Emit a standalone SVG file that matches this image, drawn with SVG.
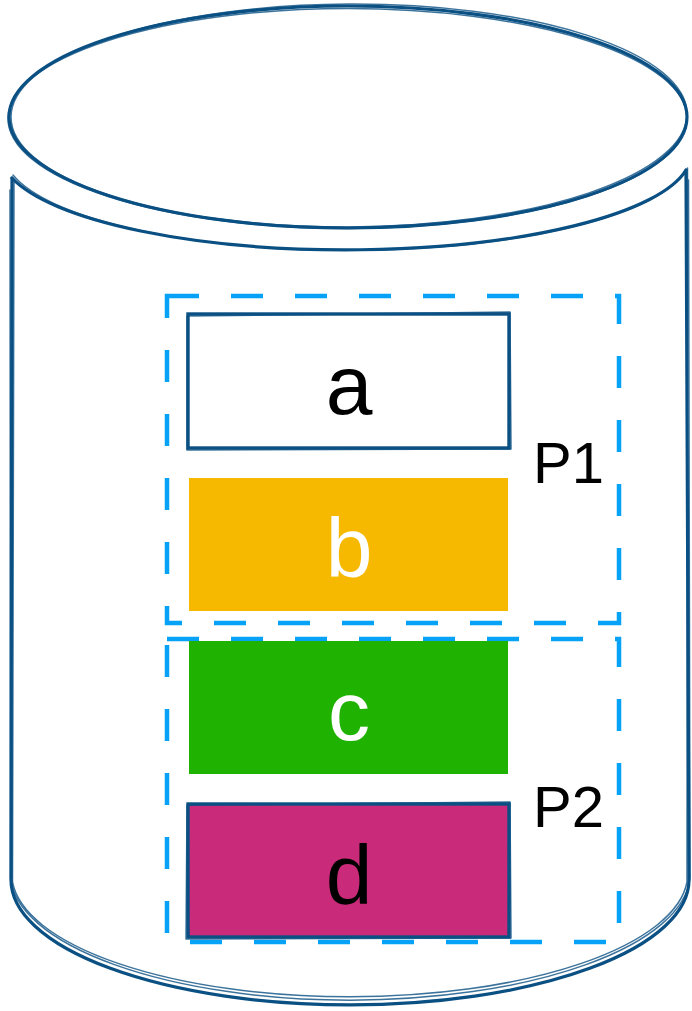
<svg xmlns="http://www.w3.org/2000/svg" width="692" height="1011" viewBox="0 0 692 1011">
<style>
.sk{fill:none;stroke:#0b5083;stroke-linecap:round;stroke-linejoin:round}
.s1{stroke-width:3.2}
.s2{stroke-width:1.5;opacity:.8}
.part{fill:none;stroke:#06a2f7;stroke-width:4.5;stroke-dasharray:32 32}
.lbl{font-family:"Liberation Sans","Helvetica Neue",Arial,sans-serif;font-size:84px;text-anchor:middle}
.pl{font-family:"Liberation Sans","Helvetica Neue",Arial,sans-serif;font-size:58px}
</style>
<rect width="692" height="1011" fill="#fff"/>
<g id="cylinder">
  <ellipse class="sk s1" cx="348" cy="117" rx="339" ry="111"/>
  <ellipse class="sk s2" cx="349" cy="115.5" rx="338" ry="111.5" transform="rotate(-0.3 349 116)"/>
  <ellipse class="sk s2" cx="347.5" cy="118.5" rx="339.5" ry="110"/>
  <path class="sk s1" d="M12 178 A345 96 0 0 0 686 170"/>
  <path class="sk s2" d="M13 175 A344 97 0 0 0 685 173"/>
  <path class="sk s1" d="M12 178 L11 880 A339 125 0 0 0 689 880 L686 170"/>
  <path class="sk s2" d="M14 182 L12.5 882 A338 123 0 0 0 687 882 L687.5 168"/>
  <path class="sk s2" d="M10 190 L10.5 878 A340 127 0 0 0 690 878 L688.5 180"/>
</g>
<g id="P1">
  <rect class="part" x="167" y="296" width="452" height="327"/>
  <text class="pl" x="533" y="483">P1</text>
</g>
<g id="P2">
  <rect class="part" x="167" y="639" width="452" height="303"/>
  <text class="pl" x="533" y="827">P2</text>
</g>
<g id="a">
  <rect x="188" y="314" width="321" height="134" fill="#fff" stroke="#0b5083" stroke-width="3.4"/>
  <path class="sk s2" d="M187 316 L510 312 L511 449 L187 450 Z"/>
  <text class="lbl" x="349" y="414" fill="#000">a</text>
</g>
<g id="b">
  <rect x="189" y="478" width="319" height="133" fill="#f6b900"/>
  <text class="lbl" x="349" y="577" fill="#fff">b</text>
</g>
<g id="c">
  <rect x="189" y="641" width="319" height="133" fill="#1fb200"/>
  <text class="lbl" x="349" y="740" fill="#fff">c</text>
</g>
<g id="d">
  <rect x="188" y="804" width="321" height="133" fill="#c92a7a" stroke="#0b5083" stroke-width="3.4"/>
  <path class="sk s2" d="M187 805 L510 802 L511 938 L186 939 Z"/>
  <text class="lbl" x="349" y="904" fill="#000">d</text>
</g>
<g id="connectors"/>
</svg>
